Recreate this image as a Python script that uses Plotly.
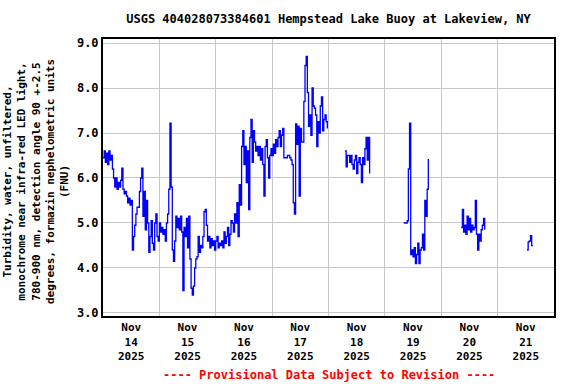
import pandas as pd
import plotly.graph_objects as go

# ---- data (turbidity, FNU), 30-minute readings per continuous segment ----
seg1_start = "2025-11-14 00:00"
seg1_values = [
    6.45, 6.6, 6.35, 6.55, 6.3, 6.6, 6.4, 6.5, 6.2, 6.0,
    5.8, 6.0, 5.75, 5.9, 5.8, 5.95, 6.22, 5.75, 5.65, 5.7,
    5.6, 5.45, 5.55, 5.4, 5.5, 4.4, 4.7, 4.95, 5.2, 5.35,
    5.35, 5.7, 6.0, 6.22, 5.15, 5.7, 4.85, 5.5, 5.0, 4.35,
    4.7, 5.05, 4.55, 4.4, 5.0, 5.2, 4.7, 4.6, 5.0, 4.8,
    4.9, 4.75, 4.85, 4.6, 5.0, 5.2, 5.75, 7.22, 5.8, 4.4,
    4.15, 4.6, 5.15, 4.9, 5.1, 4.85, 5.15, 4.8, 3.5, 4.9,
    4.7, 5.1, 4.45, 5.15, 4.2, 3.55, 3.4, 3.6, 4.0, 4.2,
    4.25, 4.7, 4.35, 4.5, 4.45, 4.7, 5.25, 5.3, 4.95, 4.6,
    4.7, 4.45, 4.65, 4.5, 4.6, 4.4, 4.6, 4.7, 4.45, 4.55,
    4.5, 4.6, 4.45, 4.8, 4.55, 4.7, 4.9, 4.5, 4.75, 5.05,
    5.0, 4.8, 5.2, 5.0, 5.45, 4.7, 5.85, 5.4, 6.7, 7.05,
    6.3, 6.7, 5.9, 6.6, 5.3, 6.9, 7.3, 6.35, 7.05, 6.8,
    6.6, 6.7, 6.5, 6.7, 6.4, 6.65, 6.3, 5.6, 6.7, 6.85,
    6.45, 6.0, 6.5, 6.65, 6.5, 6.75, 6.55, 6.85, 6.7, 6.9,
    7.05, 6.7, 6.95, 7.1, 6.45, 6.45, 6.45, 6.5, 6.5, 6.45,
    6.4, 6.3, 5.45, 5.2, 7.2, 6.75, 7.15, 5.6, 7.1, 6.8,
    6.8, 7.7, 8.5, 8.7, 7.9, 7.15, 7.4, 6.95, 8.0, 7.6,
    7.55, 7.4, 6.7, 7.25, 7.0, 7.6, 7.8, 7.05, 7.3, 7.4, 7.25, 7.1,
]
seg2_start = "2025-11-18 07:00"
seg2_values = [6.6, 6.25, 6.5, 6.5, 6.35, 6.5, 6.3, 6.2, 6.4, 6.5, 6.1,
               6.35, 6.45, 6.3, 5.9, 6.45, 6.3, 6.65, 6.9, 6.4, 6.9, 6.1]
seg3_start = "2025-11-19 08:00"
seg3_values = [5.0, 5.0, 5.0, 5.05, 6.2, 7.22, 4.3, 4.4, 4.25, 4.45, 4.1,
               4.3, 4.55, 4.1, 4.4, 4.45, 4.75, 4.4, 5.5, 5.15, 5.75, 6.42]
seg4_start = "2025-11-20 08:30"
seg4_values = [4.9, 5.3, 4.8, 4.95, 4.75, 5.15, 4.85, 5.1, 4.8, 4.95, 4.85,
               4.9, 5.5, 4.75, 4.4, 4.75, 4.6, 4.85, 4.95, 5.1, 4.85]
seg5_start = "2025-11-21 12:30"
seg5_values = [4.4, 4.58, 4.6, 4.72, 4.5, 4.5]

segments = [(seg1_start, seg1_values), (seg2_start, seg2_values),
            (seg3_start, seg3_values), (seg4_start, seg4_values),
            (seg5_start, seg5_values)]

day_labels = ["14", "15", "16", "17", "18", "19", "20", "21"]
y_ticks = [3.0, 4.0, 5.0, 6.0, 7.0, 8.0, 9.0]

title_text = "USGS 404028073384601 Hempstead Lake Buoy at Lakeview, NY"
ytitle_text = ("Turbidity, water, unfiltered,<br>"
               "monochrome near infra-red LED light,<br>"
               "780-900 nm, detection angle 90 +-2.5<br>"
               "degrees, formazin nephelometric units<br>"
               "(FNU)")
footer_text = "---- Provisional Data Subject to Revision ----"

# ---- build trace ----
xs, ys = [], []
for start, vals in segments:
    times = pd.date_range(start, periods=len(vals), freq="30min")
    xs.extend(times.strftime("%Y-%m-%d %H:%M").tolist())
    ys.extend(vals)
    xs.append(None)
    ys.append(None)

FONT = "DejaVu Sans Mono"

fig = go.Figure()
fig.add_trace(go.Scatter(x=xs, y=ys, mode="lines",
                         line=dict(color="#0000FF", width=1.3, shape="hv"),
                         connectgaps=False, hoverinfo="skip", showlegend=False))

tickvals = [f"2025-11-{d} 12:00" for d in day_labels]
ticktext = [f"<b>Nov<br>{d}<br>2025</b>" for d in day_labels]
minor_vals = [f"2025-11-{d} 00:00" for d in day_labels[1:]]

fig.update_layout(
    width=576, height=384,
    margin=dict(l=103, r=22, t=39, b=68),
    paper_bgcolor="white", plot_bgcolor="white",
    font=dict(family=FONT, color="black", size=11),
    hovermode=False,
    title=dict(text=f"<b>{title_text}</b>", x=0.5, xref="paper",
               y=1 - 19 / 384, yref="container", yanchor="middle",
               xanchor="center", font=dict(family=FONT, size=12, color="black")),
    xaxis=dict(
        type="date",
        range=["2025-11-14 00:00", "2025-11-22 00:00"],
        tickmode="array", tickvals=tickvals, ticktext=ticktext,
        showgrid=False, ticks="", zeroline=False,
        showline=True, linecolor="black", linewidth=2, mirror=True,
        tickfont=dict(family=FONT, size=11, color="black"),
        minor=dict(tickvals=minor_vals, showgrid=True, gridcolor="#c8c8c8",
                   gridwidth=1, ticks=""),
    ),
    yaxis=dict(
        range=[2.933, 9.089],
        tickmode="array", tickvals=y_ticks,
        ticktext=[f"<b>{v:.1f}</b>" for v in y_ticks],
        showgrid=True, gridcolor="#c8c8c8", gridwidth=1,
        ticks="", zeroline=False,
        showline=True, linecolor="black", linewidth=2, mirror=True,
        tickfont=dict(family=FONT, size=12, color="black"),
    ),
    annotations=[
        dict(text=f"<b>{ytitle_text}</b>", textangle=-90,
             xref="paper", yref="paper", x=(36 - 103) / 451, y=(316 - 182) / 277,
             xanchor="center", yanchor="middle", showarrow=False,
             font=dict(family=FONT, size=11, color="black")),
        dict(text=f"<b>{footer_text}</b>",
             xref="paper", yref="paper", x=0.5, y=(316 - 375) / 277,
             xanchor="center", yanchor="middle", showarrow=False,
             font=dict(family=FONT, size=12, color="#FF0000")),
    ],
)

fig.write_html(
    "out.html",
    config={"displayModeBar": False, "staticPlot": True},
    post_script="document.body.style.margin='0px';document.body.style.padding='0px';",
)
